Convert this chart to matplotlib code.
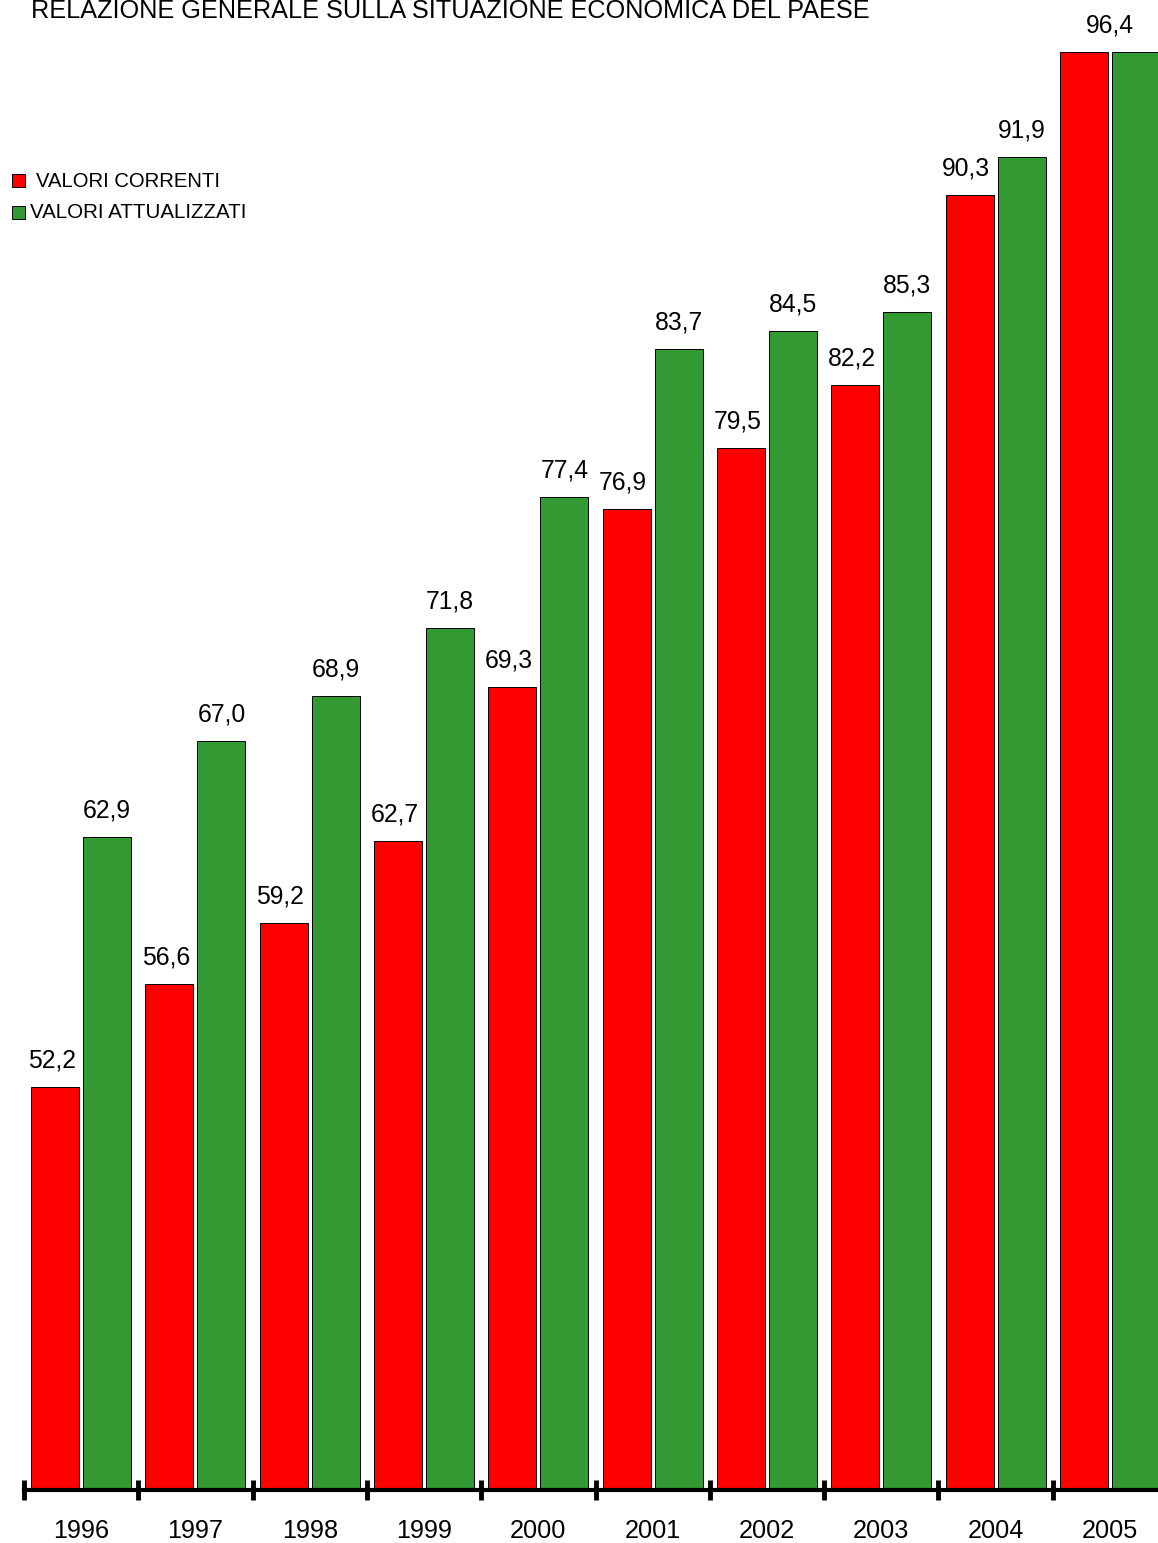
import matplotlib
matplotlib.use('Agg')
import matplotlib.pyplot as plt
from matplotlib.patches import Rectangle
import numpy as np

plt.rcParams['font.family'] = ['Liberation Sans', 'DejaVu Sans']

years = ['1996', '1997', '1998', '1999', '2000', '2001', '2002', '2003', '2004', '2005']
correnti = [52.2, 56.6, 59.2, 62.7, 69.3, 76.9, 79.5, 82.2, 90.3, 96.4]
attualizzati = [62.9, 67.0, 68.9, 71.8, 77.4, 83.7, 84.5, 85.3, 91.9, 96.4]

RED = '#ff0000'
GREEN = '#339933'
W, H = 1158, 1543

fig = plt.figure(figsize=(W / 100, H / 100), dpi=100)
# axes spans from the first tick (x=24px) past the right edge, baseline at 1490px
ymin, ymax = 35, 100
k = (1490 - 52) / (96.4 - ymin)  # px per unit
ax = fig.add_axes([24 / W, 1 - 1490 / H, 1143 / W, k * (ymax - ymin) / H])

x = np.arange(len(years))
off, bw = 0.2275, 0.42
ax.bar(x - off, correnti, bw, color=RED, edgecolor='black', linewidth=0.7)
ax.bar(x + off, attualizzati, bw, color=GREEN, edgecolor='black', linewidth=0.7)

ax.set_xlim(-0.5, len(years) - 0.5)
ax.set_ylim(ymin, ymax)

# value labels
for i, (c, a) in enumerate(zip(correnti, attualizzati)):
    if c == a:
        pos = [(i, c, 0)]
    else:
        pos = [(i - off, c, -2.5), (i + off, a, 0)]
    for px, v, dx in pos:
        ax.annotate(f'{v:.1f}'.replace('.', ','), (px, v), xytext=(dx, 14),
                    textcoords='offset points', ha='center', va='baseline',
                    fontsize=17.8, annotation_clip=False)

for s in ['left', 'right', 'top']:
    ax.spines[s].set_visible(False)
ax.spines['bottom'].set_linewidth(3)
ax.set_yticks([])

ax.set_xticks(np.arange(len(years) + 1) - 0.5)
ax.set_xticklabels([])
ax.tick_params(axis='x', which='major', direction='inout', length=14, width=3.5)
ax.set_xticks(x, minor=True)
ax.set_xticklabels(years, minor=True, fontsize=18.2)
ax.tick_params(axis='x', which='minor', length=0, pad=21)

fig.text(31 / W, 1 - 18.5 / H, 'RELAZIONE GENERALE SULLA SITUAZIONE ECONOMICA DEL PAESE',
         fontsize=18.2, va='baseline', ha='left')

# legend
fig.patches.append(Rectangle((12 / W, 1 - 187 / H), 13 / W, 13 / H, transform=fig.transFigure,
                             facecolor=RED, edgecolor='black', linewidth=0.7))
fig.text(36 / W, 1 - 187 / H, 'VALORI CORRENTI', fontsize=14.6, va='baseline')
fig.patches.append(Rectangle((12 / W, 1 - 219 / H), 13 / W, 13 / H, transform=fig.transFigure,
                             facecolor=GREEN, edgecolor='black', linewidth=0.7))
fig.text(30 / W, 1 - 218 / H, 'VALORI ATTUALIZZATI', fontsize=14.8, va='baseline')

fig.savefig('out.png', dpi=100)
